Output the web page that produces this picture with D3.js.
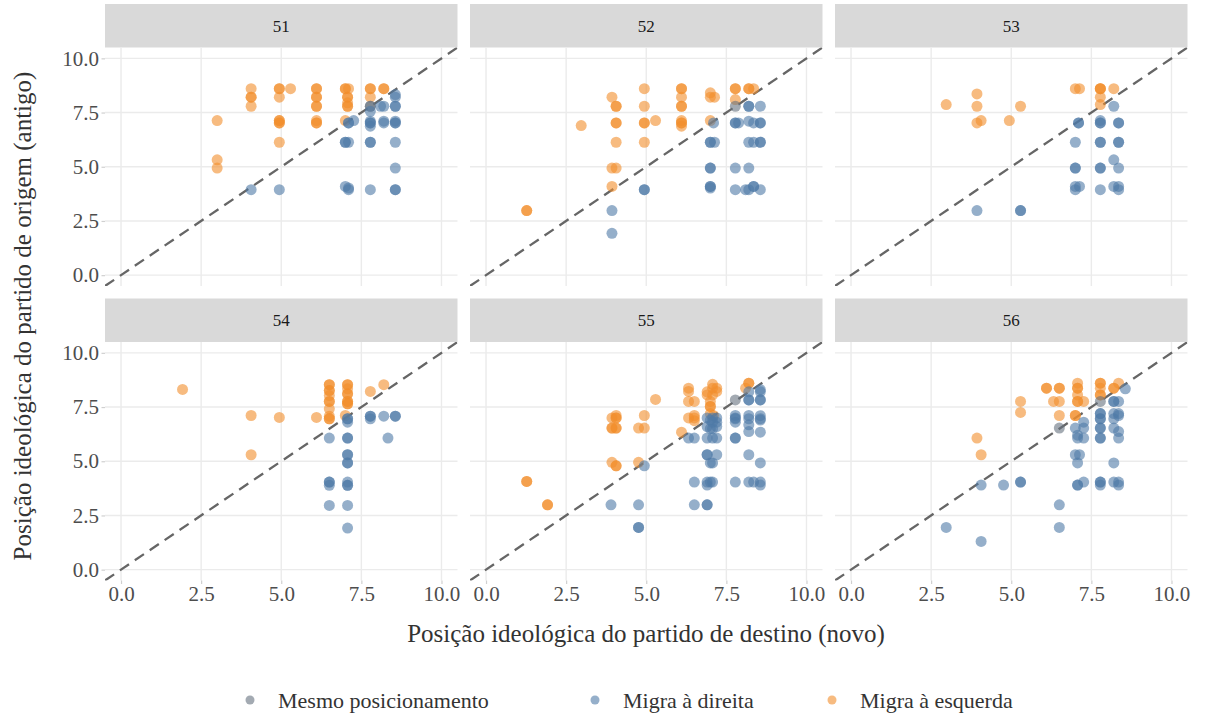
<!DOCTYPE html>
<html><head><meta charset="utf-8">
<script src="https://cdn.jsdelivr.net/npm/d3@7"></script>
</head><body style="margin:0;background:#fff">
<svg id="chart" width="1205" height="717"></svg>
<script>
const panels = ["51","52","53","54","55","56"];
const xTicks = [0,2.5,5,7.5,10];
const yTicks = [0,2.5,5,7.5,10];
const tickLabels = ["0.0","2.5","5.0","7.5","10.0"];
const categories = ["Mesmo posicionamento","Migra à direita","Migra à esquerda"];
const catCodes = ["m","d","e"];
const catColors = ["#66727e","#4e79a7","#f28e2b"];
const FONT = "Liberation Serif";

// [novo (x), antigo (y), categoria]
const pts51 = [
[3.0,7.13,"e"],[3.0,5.32,"e"],[3.0,4.94,"e"],[4.06,8.6,"e"],[4.06,8.21,"e"],[4.06,8.21,"e"],[4.06,7.79,"e"],
[4.94,8.6,"e"],[4.94,8.6,"e"],[4.94,8.21,"e"],[4.94,7.13,"e"],[4.94,7.13,"e"],[4.94,7.02,"e"],[4.94,7.02,"e"],[4.94,6.13,"e"],
[5.29,8.6,"e"],[6.1,8.6,"e"],[6.1,8.6,"e"],[6.1,8.21,"e"],[6.1,8.21,"e"],[6.1,7.79,"e"],[6.1,7.79,"e"],[6.1,7.13,"e"],[6.1,7.02,"e"],[6.1,7.02,"e"],
[7.0,8.6,"e"],[7.0,8.6,"e"],[7.1,8.6,"e"],[7.07,8.21,"e"],[7.07,8.21,"e"],[7.07,7.95,"e"],[7.07,7.79,"e"],[7.07,7.79,"e"],[7.0,7.13,"e"],
[7.78,8.6,"e"],[7.78,8.6,"e"],[7.78,8.21,"e"],[8.2,8.6,"e"],[8.2,8.6,"e"],
[7.78,7.79,"m"],[7.78,7.79,"m"],
[7.1,7.02,"d"],[7.1,7.02,"d"],[7.26,7.13,"d"],[7.78,7.1,"d"],[7.78,7.02,"d"],[7.78,7.02,"d"],[7.78,6.87,"d"],[7.78,7.56,"d"],
[8.1,7.79,"d"],[8.2,7.79,"d"],[8.2,7.1,"d"],[8.2,7.02,"d"],[8.56,8.33,"d"],[8.56,8.21,"d"],[8.56,7.79,"d"],[8.56,7.79,"d"],
[8.56,7.1,"d"],[8.56,7.02,"d"],[8.56,7.02,"d"],[7.0,6.13,"d"],[7.0,6.13,"d"],[7.1,6.13,"d"],[7.78,6.13,"d"],[7.78,6.13,"d"],
[8.56,6.13,"d"],[8.56,4.94,"d"],[4.06,3.94,"d"],[4.94,3.94,"d"],[7.0,4.09,"d"],[7.1,4.02,"d"],[7.1,3.94,"d"],[7.78,3.94,"d"],[8.56,3.94,"d"],[8.56,3.94,"d"]
];
const pts52 = [
[1.27,2.98,"e"],[1.27,2.98,"e"],[2.97,6.9,"e"],[3.93,8.21,"e"],[4.06,7.79,"e"],[4.06,7.79,"e"],[4.06,7.02,"e"],[4.06,7.02,"e"],[4.06,6.13,"e"],
[3.93,4.94,"e"],[4.06,4.94,"e"],[3.93,4.09,"e"],[4.94,8.6,"e"],[4.94,7.79,"e"],[4.94,7.02,"e"],[4.94,7.02,"e"],[4.94,6.13,"e"],[5.29,7.13,"e"],
[6.1,8.6,"e"],[6.1,8.6,"e"],[6.1,8.21,"e"],[6.1,7.79,"e"],[6.1,7.79,"e"],[6.1,7.13,"e"],[6.1,7.02,"e"],[6.1,7.02,"e"],[6.1,6.87,"e"],
[7.0,8.41,"e"],[7.0,8.21,"e"],[7.13,8.21,"e"],[7.0,7.13,"e"],[7.78,8.6,"e"],[7.78,8.6,"e"],[7.78,8.1,"e"],[8.2,8.6,"e"],[8.35,8.6,"e"],[8.2,8.6,"e"],
[7.78,7.79,"m"],
[7.1,7.02,"d"],[7.78,7.02,"d"],[7.88,7.02,"d"],[7.78,7.02,"d"],[8.2,7.79,"d"],[8.2,7.79,"d"],[8.56,7.79,"d"],[8.2,7.1,"d"],[8.35,7.02,"d"],
[8.56,7.02,"d"],[8.56,7.02,"d"],[7.0,6.13,"d"],[7.13,6.13,"d"],[7.0,6.13,"d"],[8.2,6.13,"d"],[8.35,6.13,"d"],[8.56,6.13,"d"],[8.56,6.13,"d"],
[7.0,4.94,"d"],[7.0,4.94,"d"],[7.78,4.94,"d"],[8.2,4.94,"d"],[7.0,4.09,"d"],[7.0,4.09,"d"],[7.0,4.02,"d"],[7.78,3.94,"d"],[8.1,3.94,"d"],
[8.2,3.94,"d"],[8.35,4.09,"d"],[8.35,4.09,"d"],[8.56,3.94,"d"],[4.94,3.94,"d"],[4.94,3.94,"d"],[3.93,2.98,"d"],[3.93,1.93,"d"]
];
const pts53 = [
[2.97,7.87,"e"],[3.93,8.36,"e"],[3.93,7.79,"e"],[3.93,7.02,"e"],[4.06,7.13,"e"],[4.94,7.13,"e"],[5.29,7.79,"e"],[7.0,8.6,"e"],[7.13,8.6,"e"],
[7.78,8.6,"e"],[7.78,8.6,"e"],[7.78,8.6,"e"],[7.78,8.21,"e"],[7.78,7.87,"e"],[8.2,8.6,"e"],
[8.2,7.79,"d"],[7.1,7.02,"d"],[7.1,7.02,"d"],[7.78,7.13,"d"],[7.78,7.02,"d"],[7.78,7.02,"d"],[8.35,7.02,"d"],[8.35,7.02,"d"],[7.0,6.13,"d"],
[7.78,6.13,"d"],[7.78,6.13,"d"],[8.35,6.13,"d"],[8.35,6.13,"d"],[8.2,5.32,"d"],[8.35,4.94,"d"],[7.0,4.94,"d"],[7.0,4.94,"d"],[7.78,4.94,"d"],
[7.78,4.94,"d"],[7.0,4.09,"d"],[7.13,4.09,"d"],[7.0,3.94,"d"],[7.78,3.94,"d"],[8.2,4.09,"d"],[8.35,4.09,"d"],[8.35,3.94,"d"],[3.93,2.98,"d"],
[5.29,2.98,"d"],[5.29,2.98,"d"]
];
const pts54 = [
[1.92,8.31,"e"],[4.06,7.11,"e"],[4.06,5.3,"e"],[4.94,7.02,"e"],[6.1,7.02,"e"],[6.5,8.53,"e"],[6.5,8.53,"e"],[6.5,8.26,"e"],[6.5,8.26,"e"],
[6.5,8.03,"e"],[6.5,7.76,"e"],[6.5,7.76,"e"],[6.5,7.42,"e"],[6.5,7.08,"e"],[6.5,6.96,"e"],[6.5,6.96,"e"],[7.07,8.53,"e"],[7.07,8.53,"e"],
[7.07,8.34,"e"],[7.07,8.11,"e"],[7.07,8.11,"e"],[7.07,7.76,"e"],[7.07,7.76,"e"],[7.07,7.65,"e"],[7.07,7.65,"e"],[7.0,7.11,"e"],[7.78,8.22,"e"],[8.2,8.53,"e"],
[7.07,6.96,"d"],[7.07,6.96,"d"],[7.07,6.8,"d"],[7.78,7.08,"d"],[7.78,7.08,"d"],[7.78,6.96,"d"],[8.2,7.08,"d"],[8.56,7.08,"d"],[8.56,7.08,"d"],
[6.5,6.07,"d"],[7.07,6.07,"d"],[7.07,6.07,"d"],[8.33,6.07,"d"],[7.07,5.3,"d"],[7.07,5.3,"d"],[7.07,4.92,"d"],[7.07,4.92,"d"],[6.5,4.04,"d"],
[6.5,4.04,"d"],[6.5,3.89,"d"],[7.07,4.04,"d"],[7.07,3.89,"d"],[7.07,3.89,"d"],[6.5,2.96,"d"],[7.07,2.96,"d"],[7.07,1.92,"d"]
];
const pts55 = [
[1.27,4.07,"e"],[1.27,4.07,"e"],[1.92,2.99,"e"],[1.92,2.99,"e"],[3.93,7.0,"e"],[4.06,7.11,"e"],[4.06,7.0,"e"],[4.06,7.0,"e"],[3.93,6.53,"e"],
[3.93,6.53,"e"],[4.06,6.53,"e"],[4.06,6.53,"e"],[3.93,4.95,"e"],[4.06,4.79,"e"],[4.06,4.79,"e"],[4.76,6.53,"e"],[4.94,6.53,"e"],[4.94,7.11,"e"],
[4.76,4.95,"e"],[5.29,7.85,"e"],[6.1,6.34,"e"],[6.32,8.37,"e"],[6.32,8.22,"e"],[6.32,7.76,"e"],[6.5,7.76,"e"],[6.32,7.0,"e"],[6.5,7.11,"e"],
[6.5,7.0,"e"],[6.5,6.87,"e"],[7.07,8.55,"e"],[7.07,8.37,"e"],[7.2,8.22,"e"],[7.07,8.06,"e"],[6.9,8.06,"e"],[6.9,8.2,"e"],[7.2,8.37,"e"],
[7.0,7.76,"e"],[7.0,7.53,"e"],[7.0,7.53,"e"],[7.1,7.11,"e"],[7.0,7.2,"e"],[8.2,8.6,"e"],[8.1,8.37,"e"],[8.2,8.6,"e"],
[7.78,7.83,"m"],
[4.94,4.79,"d"],[3.9,2.99,"d"],[4.76,2.99,"d"],[4.76,1.95,"d"],[4.76,1.95,"d"],[6.32,6.07,"d"],[6.5,6.07,"d"],[6.9,7.0,"d"],[7.0,6.9,"d"],
[7.07,7.0,"d"],[7.2,7.0,"d"],[7.2,6.8,"d"],[7.2,6.6,"d"],[6.9,6.6,"d"],[7.0,6.5,"d"],[7.07,6.5,"d"],[7.07,6.8,"d"],[6.9,6.07,"d"],[7.07,6.07,"d"],
[7.2,6.07,"d"],[6.9,5.3,"d"],[6.9,5.3,"d"],[7.2,5.3,"d"],[7.0,4.92,"d"],[7.07,4.92,"d"],[6.5,4.04,"d"],[6.9,4.04,"d"],[6.9,3.9,"d"],[7.0,4.04,"d"],
[7.07,4.04,"d"],[6.5,2.99,"d"],[6.9,2.99,"d"],[6.9,2.99,"d"],[7.78,7.0,"d"],[7.78,7.11,"d"],[7.78,6.8,"d"],[7.78,6.96,"d"],[7.78,6.07,"d"],
[7.78,6.07,"d"],[8.2,8.2,"d"],[8.2,7.83,"d"],[8.2,7.83,"d"],[8.2,7.11,"d"],[8.2,6.96,"d"],[8.2,6.68,"d"],[8.2,6.37,"d"],[8.56,8.3,"d"],[8.56,8.2,"d"],
[8.56,7.83,"d"],[8.56,7.83,"d"],[8.56,7.1,"d"],[8.56,6.9,"d"],[8.56,6.96,"d"],[8.56,6.34,"d"],[7.78,4.04,"d"],[8.2,5.3,"d"],[8.56,4.92,"d"],
[8.2,4.04,"d"],[8.35,4.04,"d"],[8.56,4.04,"d"],[8.56,3.9,"d"]
];
const pts56 = [
[3.93,6.07,"e"],[4.06,5.3,"e"],[5.29,7.76,"e"],[5.29,7.25,"e"],[6.1,8.37,"e"],[6.1,8.37,"e"],[6.5,8.37,"e"],[6.5,8.37,"e"],[6.5,7.76,"e"],
[6.32,7.76,"e"],[6.5,7.11,"e"],[7.07,8.6,"e"],[7.07,8.37,"e"],[7.07,8.37,"e"],[7.07,8.06,"e"],[7.07,7.76,"e"],[7.07,7.76,"e"],[7.26,7.76,"e"],
[7.0,7.11,"e"],[7.0,7.11,"e"],[7.78,8.6,"e"],[7.78,8.6,"e"],[7.78,8.37,"e"],[7.78,8.06,"e"],[7.78,8.06,"e"],[8.2,8.37,"e"],[8.2,8.37,"e"],[8.35,8.6,"e"],
[7.78,7.76,"m"],[6.5,6.53,"m"],
[8.56,8.34,"d"],[8.2,7.76,"d"],[8.2,7.76,"d"],[8.35,7.76,"d"],[7.78,7.2,"d"],[7.78,7.2,"d"],[7.78,6.96,"d"],[7.78,6.96,"d"],[7.78,6.53,"d"],
[7.78,6.53,"d"],[7.78,6.07,"d"],[7.78,6.07,"d"],[8.2,7.2,"d"],[8.35,7.11,"d"],[8.2,6.96,"d"],[8.2,6.53,"d"],[8.35,6.37,"d"],[8.35,6.07,"d"],
[8.35,7.2,"d"],[7.0,6.53,"d"],[7.26,6.53,"d"],[7.07,6.2,"d"],[7.26,6.07,"d"],[7.07,6.07,"d"],[7.26,6.8,"d"],[7.0,5.3,"d"],[7.13,5.3,"d"],
[7.07,4.92,"d"],[8.2,4.92,"d"],[7.07,3.9,"d"],[7.07,3.9,"d"],[7.26,4.04,"d"],[7.78,4.04,"d"],[7.78,4.04,"d"],[7.78,3.9,"d"],[8.2,4.04,"d"],
[8.35,4.04,"d"],[8.35,3.9,"d"],[4.06,3.9,"d"],[4.76,3.9,"d"],[5.29,4.04,"d"],[5.29,4.04,"d"],[6.5,2.99,"d"],[6.5,1.95,"d"],[2.97,1.95,"d"],[4.06,1.3,"d"]
];
const panelData = [pts51, pts52, pts53, pts54, pts55, pts56];

const svg = d3.select("#chart");
const color = d3.scaleOrdinal().domain(catCodes).range(catColors);
const colLeft = [105, 470, 835];
const panelW = 352.5;
const rows = [{stripTop:4, top:47.5, bottom:286}, {stripTop:298.5, top:342, bottom:580.5}];
const stripH = 43.5;

panelData.forEach((pts, i) => {
  const col = i % 3, row = Math.floor(i / 3);
  const x0 = colLeft[col], r = rows[row];
  const x = d3.scaleLinear().domain([-0.5, 10.5]).range([x0, x0 + panelW]);
  const y = d3.scaleLinear().domain([-0.5, 10.5]).range([r.bottom, r.top]);
  const g = svg.append("g");
  g.append("rect").attr("x", x0).attr("y", r.stripTop).attr("width", panelW).attr("height", stripH).attr("fill", "#d9d9d9");
  g.append("text").attr("x", x0 + panelW/2).attr("y", r.stripTop + stripH/2).attr("dy", "0.35em")
    .attr("text-anchor", "middle").attr("font-family", FONT).attr("font-size", 17).attr("fill", "#1a1a1a").text(panels[i]);
  g.selectAll(".gx").data(xTicks).join("line").attr("x1", d => x(d)).attr("x2", d => x(d))
    .attr("y1", r.top).attr("y2", r.bottom).attr("stroke", "#ebebeb").attr("stroke-width", 1.4);
  g.selectAll(".gy").data(yTicks).join("line").attr("y1", d => y(d)).attr("y2", d => y(d))
    .attr("x1", x0).attr("x2", x0 + panelW).attr("stroke", "#ebebeb").attr("stroke-width", 1.4);
  if (col === 0) {
    const ay = g.append("g").attr("transform", `translate(${x0},0)`)
      .call(d3.axisLeft(y).tickValues(yTicks).tickFormat((d, k) => tickLabels[k]).tickSize(3.5).tickPadding(2.5));
    ay.attr("font-family", FONT).attr("font-size", 21);
    ay.select(".domain").remove();
    ay.selectAll("line").attr("stroke", "#d0d0d0").attr("stroke-width", 1.2);
    ay.selectAll("text").attr("font-family", FONT).attr("font-size", 21).attr("fill", "#4d4d4d");
  }
  if (row === 1) {
    const ax = g.append("g").attr("transform", `translate(0,${r.bottom})`)
      .call(d3.axisBottom(x).tickValues(xTicks).tickFormat((d, k) => tickLabels[k]).tickSize(3.5).tickPadding(2));
    ax.attr("font-family", FONT).attr("font-size", 21);
    ax.select(".domain").remove();
    ax.selectAll("line").attr("stroke", "#d0d0d0").attr("stroke-width", 1.2);
    ax.selectAll("text").attr("font-family", FONT).attr("font-size", 21).attr("fill", "#4d4d4d");
  }
  const cid = "clip" + i;
  svg.append("clipPath").attr("id", cid).append("rect")
    .attr("x", x0).attr("y", r.top).attr("width", panelW).attr("height", r.bottom - r.top);
  g.append("line").attr("clip-path", `url(#${cid})`)
    .attr("x1", x(-0.5)).attr("y1", y(-0.5)).attr("x2", x(10.5)).attr("y2", y(10.5))
    .attr("stroke", "#666666").attr("stroke-width", 2.3).attr("stroke-dasharray", "11,7");
  g.append("g").selectAll("circle").data(pts).join("circle")
    .attr("cx", d => x(d[0])).attr("cy", d => y(d[1])).attr("r", 5.5)
    .attr("fill", d => color(d[2])).attr("fill-opacity", 0.6);
});

svg.append("text").attr("x", 646).attr("y", 633).attr("dy", "0.35em").attr("text-anchor", "middle")
  .attr("font-family", FONT).attr("font-size", 25).attr("fill", "#333").text("Posição ideológica do partido de destino (novo)");
svg.append("text").attr("transform", "translate(22,316) rotate(-90)").attr("dy", "0.35em").attr("text-anchor", "middle")
  .attr("font-family", FONT).attr("font-size", 25).attr("fill", "#333").text("Posição ideológica do partido de origem (antigo)");

const legX = [250, 595, 832];
const leg = svg.append("g");
categories.forEach((c, k) => {
  leg.append("circle").attr("cx", legX[k]).attr("cy", 700).attr("r", 4.5)
    .attr("fill", catColors[k]).attr("fill-opacity", 0.6);
  leg.append("text").attr("x", legX[k] + 28).attr("y", 700).attr("dy", "0.35em")
    .attr("font-family", FONT).attr("font-size", 22).attr("fill", "#333").text(c);
});
</script></body></html>
